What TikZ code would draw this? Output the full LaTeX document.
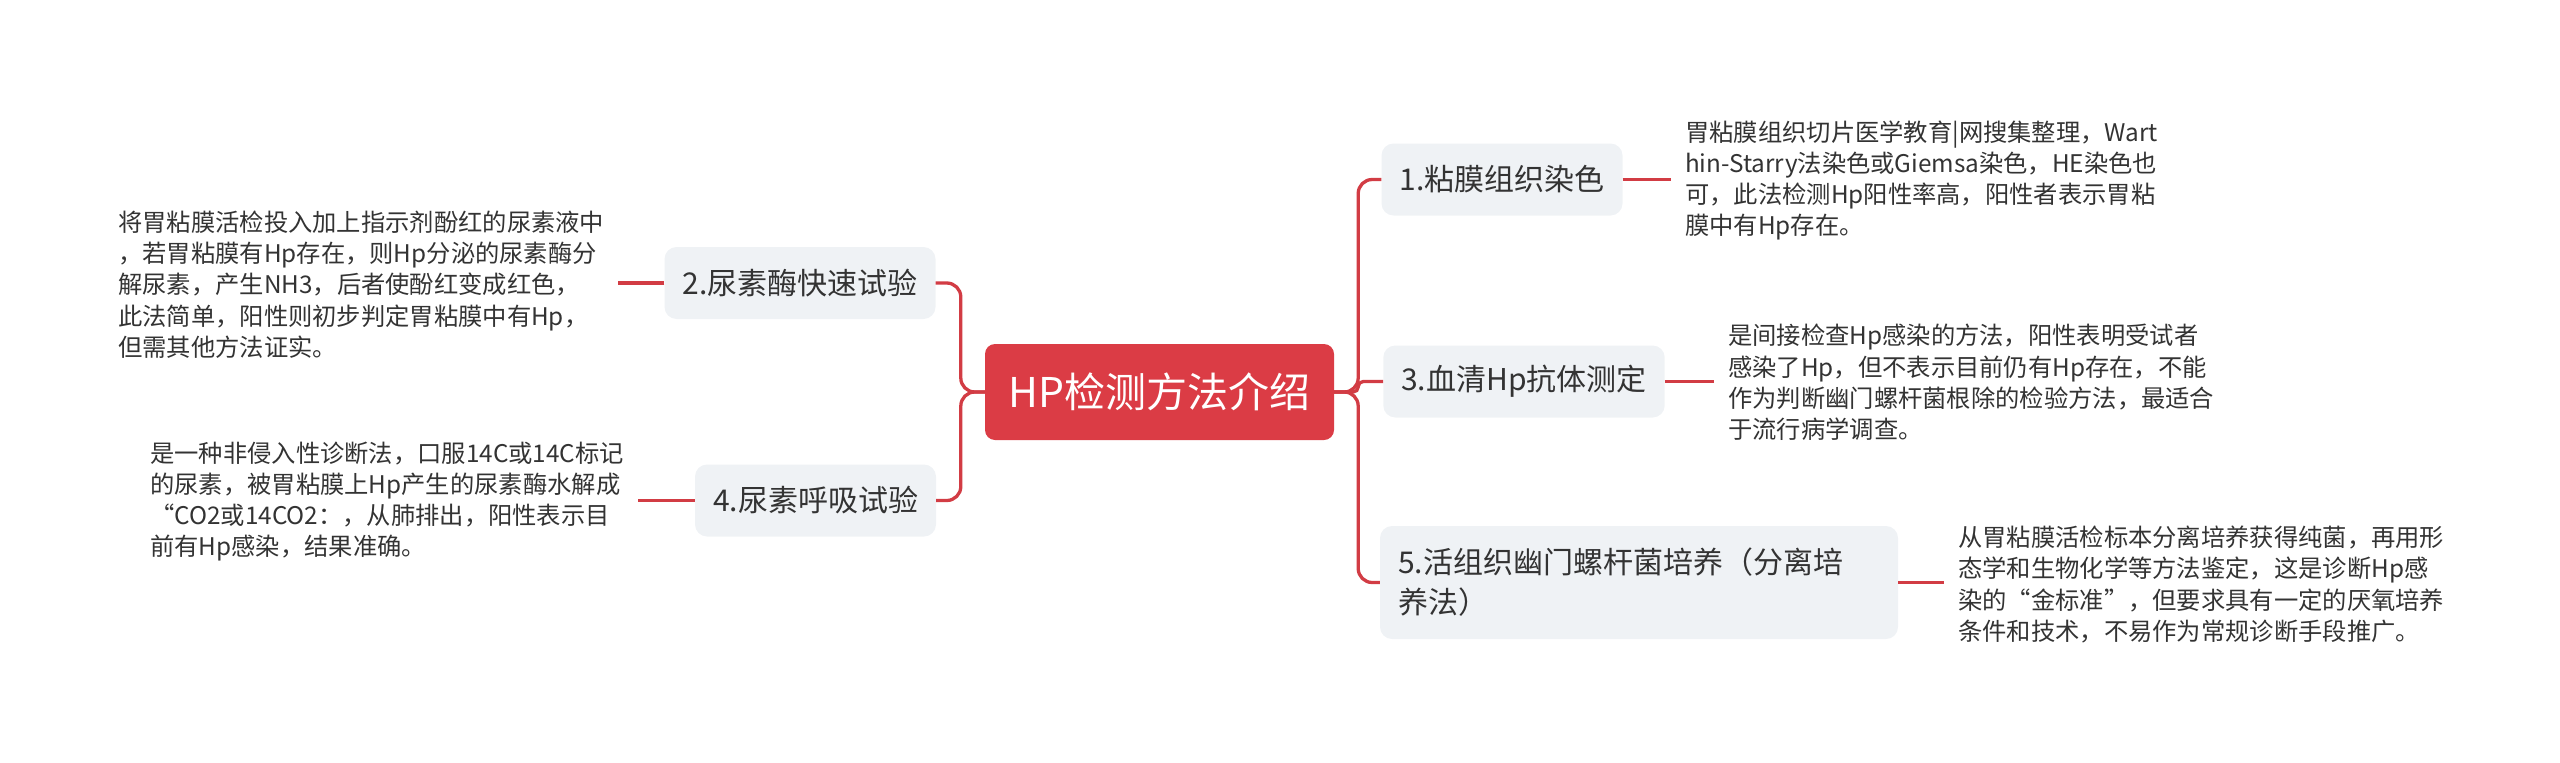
\documentclass[tikz,border=0pt]{standalone}
\usepackage{fontspec}
\newfontfamily\cjk{Noto Sans CJK SC}
\definecolor{rootred}{HTML}{DB3C45}
\definecolor{linered}{HTML}{D23C44}
\definecolor{topicbg}{HTML}{EFF2F5}
\definecolor{txtgray}{HTML}{333333}
\tikzset{
  rootbox/.style={fill=rootred, rounded corners=10pt, text=white, inner sep=0pt,
    minimum width=349pt, minimum height=96pt,
    font=\cjk\fontsize{41}{49}\selectfont},
  topicbox/.style={fill=topicbg, rounded corners=12pt, text=txtgray, inner xsep=18pt,
    inner ysep=0pt, minimum height=72pt, align=left,
    font=\cjk\fontsize{30}{40}\selectfont},
  leafbox/.style={text=txtgray, inner xsep=14pt, inner ysep=0pt, align=left,
    font=\cjk\fontsize{24.3}{31.3}\selectfont},
  conn/.style={draw=linered, line width=3.3pt, rounded corners=14pt},
  leafconn/.style={draw=linered, line width=3.3pt},
}
\begin{document}
\begin{tikzpicture}[x=1pt,y=-1pt]
\useasboundingbox (0,0) rectangle (2560,763);
\node[rootbox] (root) at (1159.5,392) {HP检测方法介绍};
% right topics
\node[topicbox] (n1) at (1502,179.5) {1.粘膜组织染色};
\node[topicbox] (n3) at (1524,381.5) {3.血清Hp抗体测定};
\node[topicbox, text width=482pt, minimum height=113pt] (n5) at (1639,582.5) {5.活组织幽门螺杆菌培养（分离培\\养法）};
% left topics
\node[topicbox] (n2) at (800,283) {2.尿素酶快速试验};
\node[topicbox] (n4) at (815.5,500.5) {4.尿素呼吸试验};
% leaves
\node[leafbox, anchor=west] (l1) at (1671,180.5) {胃粘膜组织切片医学教育|网搜集整理，Wart\\hin-Starry法染色或Giemsa染色，HE染色也\\可，此法检测Hp阳性率高，阳性者表示胃粘\\膜中有Hp存在。};
\node[leafbox, anchor=west] (l3) at (1714,382.5) {是间接检查Hp感染的方法，阳性表明受试者\\感染了Hp，但不表示目前仍有Hp存在，不能\\作为判断幽门螺杆菌根除的检验方法，最适合\\于流行病学调查。};
\node[leafbox, anchor=west] (l5) at (1944,584.5) {从胃粘膜活检标本分离培养获得纯菌，再用形\\态学和生物化学等方法鉴定，这是诊断Hp感\\染的“金标准”，但要求具有一定的厌氧培养\\条件和技术，不易作为常规诊断手段推广。};
\node[leafbox, anchor=west] (l2) at (104,284.5) {将胃粘膜活检投入加上指示剂酚红的尿素液中\\，若胃粘膜有Hp存在，则Hp分泌的尿素酶分\\解尿素，产生NH3，后者使酚红变成红色，\\此法简单，阳性则初步判定胃粘膜中有Hp，\\但需其他方法证实。};
\node[leafbox, anchor=west] (l4) at (136,501.5) {是一种非侵入性诊断法，口服14C或14C标记\\的尿素，被胃粘膜上Hp产生的尿素酶水解成\\“CO2或14CO2：，从肺排出，阳性表示目\\前有Hp感染，结果准确。};
% connectors root -> topics
\draw[conn] (root.east) -- ++(24,0) |- (n1.west);
\draw[conn, rounded corners=5pt] (root.east) -- ++(24,0) |- (n3.west);
\draw[conn] (root.east) -- ++(24,0) |- (n5.west);
\draw[conn] (root.west) -- ++(-24,0) |- (n2.east);
\draw[conn] (root.west) -- ++(-24,0) |- (n4.east);
% topic -> leaf
\draw[leafconn] (n1.east) -- (n1.east -| l1.west);
\draw[leafconn] (n3.east) -- (n3.east -| l3.west);
\draw[leafconn] (n5.east) -- (n5.east -| l5.west);
\draw[leafconn] (n2.west) -- (n2.west -| l2.east);
\draw[leafconn] (n4.west) -- (n4.west -| l4.east);
\end{tikzpicture}
\end{document}
